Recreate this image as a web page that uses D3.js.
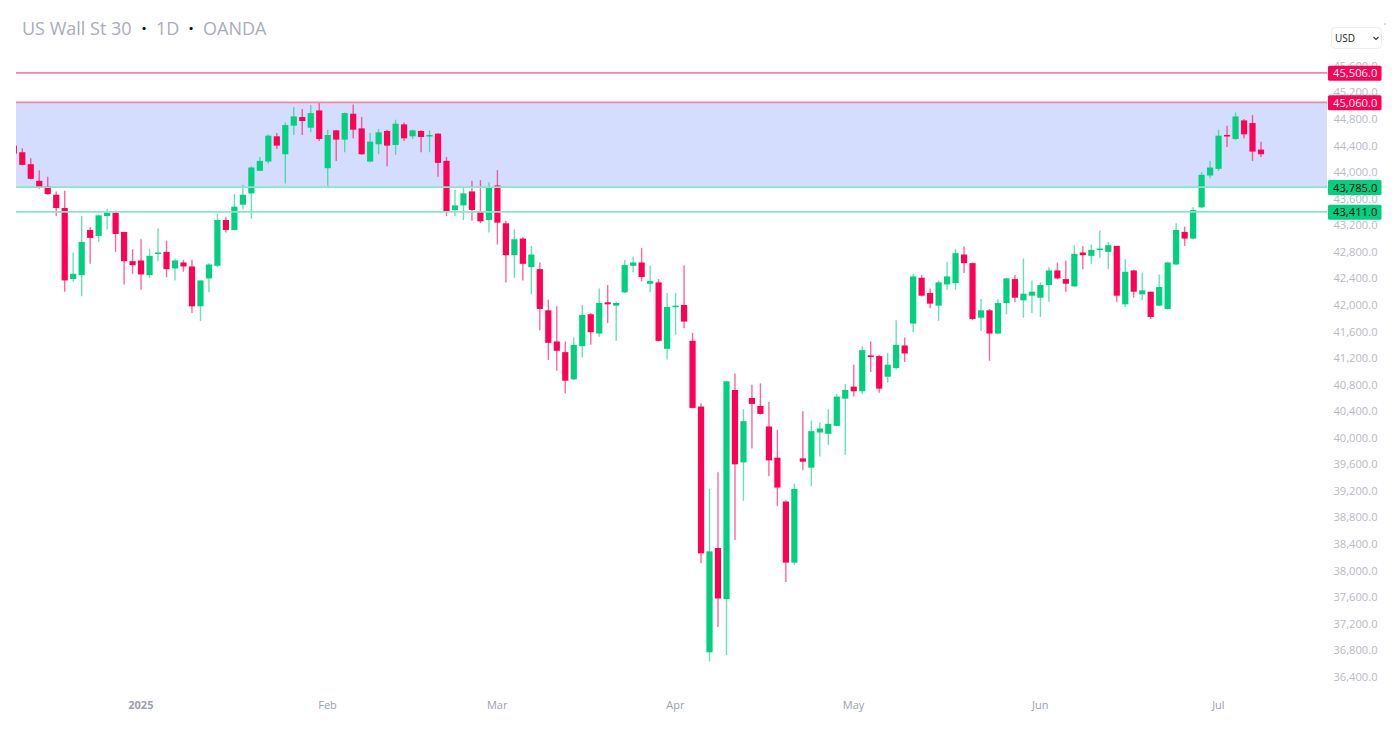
<!DOCTYPE html>
<html>
<head>
<meta charset="utf-8">
<title>US Wall St 30</title>
<script src="https://cdn.jsdelivr.net/npm/d3@7"></script>
<style>
  html, body { margin: 0; padding: 0; background: #fff; }
  svg { display: block; font-family: "Open Sans", sans-serif; }
</style>
</head>
<body>
<svg id="chart" width="1400" height="746"></svg>
<script>
// daily bars
const opens = [
  44410,44310,44130,43880,43800,43670,43470,42400,42460,43140,
  43050,43350,43400,43110,42670,42680,42460,42780,42810,42560,
  42650,42590,41990,42410,42600,43290,43140,43520,43690,44030,
  44170,44550,44280,44710,44840,44680,44940,44070,44640,44500,
  44890,44670,44170,44430,44630,44420,44730,44550,44630,44550,
  44590,44180,43440,43510,43720,43420,43290,43810,43240,42760,
  43010,42580,42550,41930,41460,41300,40890,41390,41870,41580,
  42050,42000,42200,42600,42650,42330,42350,41350,41980,42010,
  41470,40480,36780,38350,37580,40730,39640,40610,40490,40180,
  39710,39050,38130,39700,39560,40090,40070,40190,40600,40780,
  40710,41250,41240,40930,41060,41400,41730,42420,42190,42000,
  42320,42340,42770,42640,41820,41930,41580,42040,42400,42080,
  42150,42120,42310,42530,42400,42290,42800,42750,42840,42810,
  42900,42020,42530,42170,42210,42000,41950,42620,43110,43010,
  43480,43960,44060,44570,44510,44790,44750,44350
];
const highs = [
  44420,44370,44220,44040,43940,43720,43730,42800,43350,43180,
  43370,43460,43430,43110,42850,43000,42850,43160,42980,42710,
  42690,42690,42380,42640,43380,43340,43680,43820,44100,44240,
  44580,44600,44760,44990,44960,45020,45060,44650,44650,44910,
  45030,44840,44600,44660,44650,44800,44760,44650,44640,44640,
  44600,44240,43740,43780,43880,43890,43860,44040,43280,43150,
  43030,42900,42650,42090,41990,41460,41520,42010,41890,42260,
  42310,42060,42690,42740,42870,42600,42400,42190,42190,42610,
  41590,40530,39240,39490,40870,40980,40440,40810,40830,40550,
  40130,39070,39320,40410,40270,40240,40440,40670,40820,41110,
  41390,41460,41260,41290,41780,41520,42480,42460,42260,42380,
  42660,42850,42890,42650,42100,41950,42100,42420,42460,42710,
  42380,42350,42580,42650,42680,42910,42900,42920,43130,42960,
  42900,42700,42540,42500,42210,42470,42660,43240,43190,43480,
  44010,44180,44650,44710,44910,44810,44870,44470
];
const lows = [
  44280,44110,43900,43760,43670,43350,42210,42360,42140,42630,
  42960,43150,42810,42320,42480,42240,42420,42670,42430,42380,
  42510,41890,41770,42200,42580,43100,43130,43450,43310,44030,
  44140,44360,43840,44570,44570,44610,44480,43800,44180,44310,
  44520,44270,44160,44280,44100,44270,44480,44510,44310,44310,
  43940,43350,43350,43290,43280,43240,43100,42920,42350,42420,
  42380,42170,41630,41180,41020,40680,40880,41220,41410,41530,
  41740,41470,42190,42500,42370,42200,41460,41190,41560,41660,
  40450,38120,36640,37160,36740,38470,39060,39850,40360,39430,
  38980,37840,38100,39520,39280,39730,39900,40180,39750,40630,
  40670,41000,40690,40840,41040,41150,41600,42140,41960,41770,
  42240,42240,42490,41780,41620,41170,41570,41870,42050,41820,
  41890,41830,42060,42400,42210,42280,42550,42630,42720,42550,
  42060,41980,42120,42080,41800,41990,41940,42610,42900,43000,
  43470,43920,44030,44390,44490,44520,44180,44240
];
const closes = [
  44290,44120,43910,43780,43680,43470,42380,42480,42960,43020,
  43360,43400,43080,42670,42610,42470,42750,42800,42550,42680,
  42590,41990,42380,42620,43290,43140,43490,43670,44080,44180,
  44560,44410,44720,44850,44780,44900,44510,44570,44500,44900,
  44650,44280,44470,44610,44410,44740,44520,44640,44540,44570,
  44150,43410,43510,43690,43440,43270,43780,43250,42760,43000,
  42630,42770,41950,41440,41320,40870,41410,41860,41600,42040,
  42020,42040,42610,42650,42430,42370,41470,41980,42000,41760,
  40460,38270,38300,37590,40860,39610,40260,40520,40370,39670,
  39260,38130,39240,39650,40110,40150,40220,40630,40730,40710,
  41330,41230,40750,41110,41410,41280,42440,42150,42030,42350,
  42440,42790,42640,41800,41930,41580,42040,42410,42120,42180,
  42210,42310,42530,42410,42330,42780,42760,42840,42860,42910,
  42150,42510,42210,42230,41830,42280,42650,43140,43010,43440,
  43970,44080,44560,44550,44850,44580,44320,44280
];

// bar index where each month label sits
const monthBars = [15, 37, 57, 78, 99, 121, 142];
const monthLabels = ['2025', 'Feb', 'Mar', 'Apr', 'May', 'Jun', 'Jul'];

const priceTicks = [
  45600,45200,44800,44400,44000,43600,43200,42800,42400,42000,41600,41200,
  40800,40400,40000,39600,39200,38800,38400,38000,37600,37200,36800,36400
];

// horizontal levels, top pair red and bottom pair green
const redLevels = [45506, 45060];
const greenLevels = [43785, 43411];

const RED = '#ff0055';
const GREEN = '#00d07f';

const plotLeft = 16;
const plotRight = 1327;

const svg = d3.select('#chart');

const x = d3.scaleLinear().domain([0, opens.length - 1]).range([13.8, 1261]);
const y = d3.scaleLinear().domain([36400, 45600]).range([677.5, 66.6]);

svg.append('defs').append('clipPath').attr('id', 'plot')
  .append('rect')
  .attr('x', plotLeft).attr('y', 0)
  .attr('width', plotRight - plotLeft).attr('height', 746);

// price axis first, the level tags cover part of it
const yAxis = d3.axisRight(y)
  .tickValues(priceTicks)
  .tickSize(0)
  .tickFormat(d3.format(',.1f'));

const yG = svg.append('g')
  .attr('transform', 'translate(1355.5,-0.8)')
  .call(yAxis);
yG.select('.domain').remove();
yG.selectAll('text')
  .attr('x', 0)
  .attr('text-anchor', 'middle')
  .attr('fill', '#b8bbc4')
  .style('font-size', '11.2px')
  .style('font-family', '"Open Sans", sans-serif');

const xAxis = d3.axisBottom(x)
  .tickValues(monthBars)
  .tickSize(0)
  .tickFormat((d, i) => monthLabels[i]);

const xG = svg.append('g')
  .attr('transform', 'translate(-0.7,698)')
  .call(xAxis);
xG.select('.domain').remove();
xG.selectAll('text')
  .attr('fill', '#9b9fad')
  .style('font-size', '11px')
  .style('font-family', '"Open Sans", sans-serif')
  .style('font-weight', d => d === monthBars[0] ? 700 : 400);

// shaded zone between the 45,060 and 43,785 levels
svg.append('rect')
  .attr('x', plotLeft)
  .attr('y', y(redLevels[1]))
  .attr('width', plotRight - plotLeft)
  .attr('height', y(greenLevels[0]) - y(redLevels[1]))
  .attr('fill', '#d5ddff');

const plot = svg.append('g').attr('clip-path', 'url(#plot)');

const bars = d3.range(opens.length);
const barColor = i => closes[i] >= opens[i] ? GREEN : RED;

plot.selectAll('.wick').data(bars).enter().append('line')
  .attr('class', 'wick')
  .attr('x1', i => x(i)).attr('x2', i => x(i))
  .attr('y1', i => y(highs[i])).attr('y2', i => y(lows[i]))
  .attr('stroke', barColor)
  .attr('stroke-opacity', 0.6)
  .attr('stroke-width', 1.4);

plot.selectAll('.body').data(bars).enter().append('rect')
  .attr('class', 'body')
  .attr('x', i => x(i) - 3.1)
  .attr('width', 6.2)
  .attr('y', i => y(Math.max(opens[i], closes[i])))
  .attr('height', i => Math.max(1.5, Math.abs(y(opens[i]) - y(closes[i]))))
  .attr('fill', barColor);

const levels = redLevels.map(v => ({ v, color: RED, text: '#fff', line: '#ff7fa6' }))
  .concat(greenLevels.map(v => ({ v, color: GREEN, text: '#000', line: '#86e8c6' })));

svg.selectAll('.level').data(levels).enter().append('line')
  .attr('class', 'level')
  .attr('x1', plotLeft).attr('x2', plotRight)
  .attr('y1', d => y(d.v)).attr('y2', d => y(d.v))
  .attr('stroke', d => d.line)
  .attr('stroke-width', 1.8);

const tags = svg.selectAll('.tag').data(levels).enter().append('g')
  .attr('class', 'tag')
  .attr('transform', d => `translate(1328,${y(d.v)})`);

tags.append('rect')
  .attr('x', 0).attr('y', -7.2)
  .attr('width', 53.5).attr('height', 15)
  .attr('rx', 1.5)
  .attr('fill', d => d.color);

tags.append('text')
  .attr('x', 27.2).attr('y', 0.4)
  .attr('dy', '0.36em')
  .attr('text-anchor', 'middle')
  .attr('fill', d => d.text)
  .style('font-size', '11.2px')
  .text(d => d3.format(',.1f')(d.v));

// title
const titleParts = [
  { text: 'US Wall St 30', x: 22, fill: '#a9adba' },
  { text: '·', x: 144, fill: '#111', anchor: 'middle', weight: 700 },
  { text: '1D', x: 156, fill: '#a9adba' },
  { text: '·', x: 191, fill: '#111', anchor: 'middle', weight: 700 },
  { text: 'OANDA', x: 203, fill: '#a9adba' }
];

svg.selectAll('.title').data(titleParts).enter().append('text')
  .attr('class', 'title')
  .attr('x', d => d.x)
  .attr('y', 35)
  .attr('text-anchor', d => d.anchor || 'start')
  .attr('fill', d => d.fill)
  .style('font-size', '18px')
  .style('font-weight', d => d.weight || 400)
  .text(d => d.text);

// currency box
svg.append('rect')
  .attr('x', 1331.5).attr('y', 27.5)
  .attr('width', 50).attr('height', 21)
  .attr('rx', 4)
  .attr('fill', '#fff')
  .attr('stroke', '#ececee');

svg.append('text')
  .attr('x', 1335).attr('y', 42)
  .attr('fill', '#222')
  .style('font-size', '10px')
  .text('USD');

svg.append('path')
  .attr('d', 'M1373.5 37 l2.5 2.5 l2.5 -2.5')
  .attr('fill', 'none')
  .attr('stroke', '#333')
  .attr('stroke-width', 1.2);

svg.append('circle')
  .attr('cx', 1385).attr('cy', 24).attr('r', 0.6)
  .attr('fill', '#666');
</script>
</body>
</html>
